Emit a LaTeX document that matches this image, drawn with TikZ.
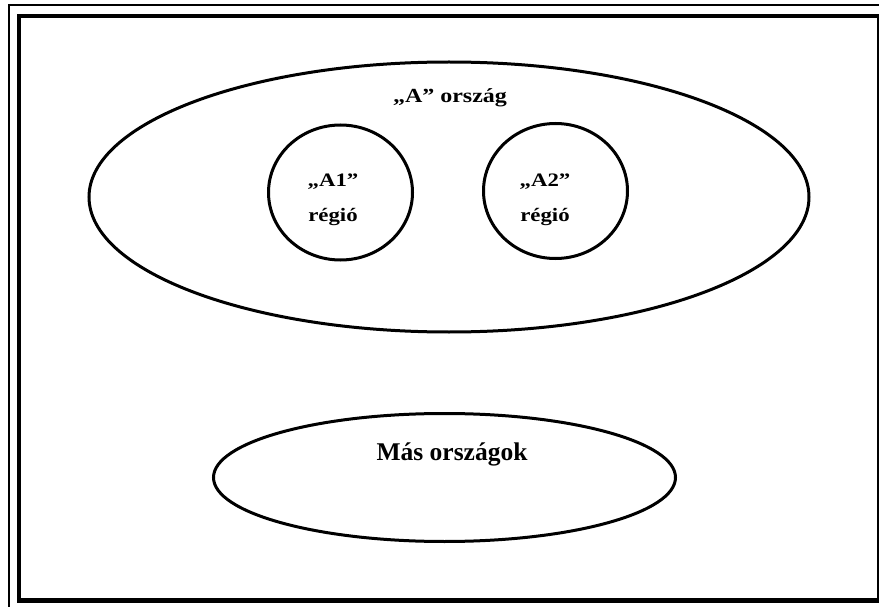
\documentclass[tikz,border=0pt]{standalone}
\usepackage{fontspec}
\setmainfont{Liberation Serif}
\usetikzlibrary{shapes.geometric}

\begin{document}
\begin{tikzpicture}[x=1pt,y=-1pt,
        halmaz/.style={draw,ellipse,line width=3pt,inner sep=0pt},
        felirat/.style={inner sep=0pt,align=center}]
        \useasboundingbox (0,0) rectangle (879,607);
        \clip (0,0) rectangle (879,607);
        \draw[line width=2pt] (9,620) -- (9,5) -- (890,5); % thin outer frame
        \draw[line width=4.5pt] (19,16) rectangle (879.5,600.5); % thick frame
        \node[halmaz,minimum width=720pt,minimum height=270pt] (orszagA) at (449,197) {};
        \node[halmaz,minimum width=144pt,minimum height=135pt] (regio1) at (340.5,192.5) {};
        \node[halmaz,minimum width=144pt,minimum height=135pt] (regio2) at (555.5,191) {};
        \node[halmaz,minimum width=462pt,minimum height=128pt] (masok) at (444.5,477.5) {};
        \node[felirat,anchor=base,xscale=1.2,font=\fontsize{20}{24}\selectfont\bfseries] (cimA) at (450,103) {„A” ország};
        \node[felirat,xscale=1.2,font=\fontsize{19}{35}\selectfont\bfseries] (cim1) at (333,200) {„A1”\\régió};
        \node[felirat,xscale=1.2,font=\fontsize{19}{35}\selectfont\bfseries] (cim2) at (545,200) {„A2”\\régió};
        \node[felirat,anchor=base,font=\fontsize{25.5}{30}\selectfont\bfseries] (cimMas) at (452,460) {Más országok};
\end{tikzpicture}
\end{document}
